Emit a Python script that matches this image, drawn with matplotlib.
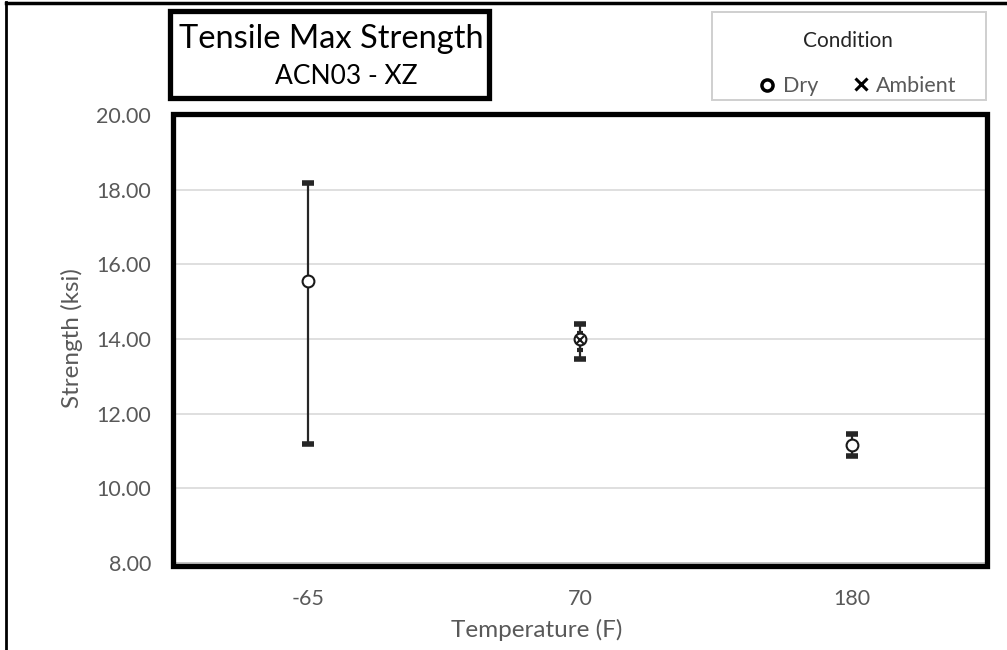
import matplotlib
matplotlib.use("Agg")
import matplotlib.pyplot as plt
from matplotlib.patches import Rectangle
import numpy as np

plt.rcParams['font.family'] = ['Lato', 'DejaVu Sans']

categories = ["-65", "70", "180"]
dry_mean = [15.55, 14.00, 11.16]
dry_err_low = [4.36, 0.54, 0.29]
dry_err_high = [2.63, 0.40, 0.29]
amb_cats = ["70"]
amb_mean = [13.98]
amb_err_low = [0.27]
amb_err_high = [0.18]
yticks = [8, 10, 12, 14, 16, 18, 20]

W, H = 1007, 650
fig = plt.figure(figsize=(W / 100, H / 100), dpi=100)

def fx(px):
    return px / W

def fy(py):
    return 1 - py / H

ax = fig.add_axes([fx(172), fy(563), fx(988) - fx(172), fy(115) - fy(563)])
xpos = np.arange(len(categories))
amb_x = [categories.index(c) for c in amb_cats]

ax.errorbar(xpos, dry_mean, yerr=[dry_err_low, dry_err_high], fmt='none', ecolor='#262626',
            elinewidth=1.6, capsize=4.5, capthick=4, zorder=3)
ax.errorbar(amb_x, amb_mean, yerr=[amb_err_low, amb_err_high], fmt='none', ecolor='#262626',
            elinewidth=1.6, capsize=2.5, capthick=3, zorder=3)
ax.plot(xpos, dry_mean, linestyle='none', marker='o', markersize=8.5,
        markerfacecolor='white', markeredgecolor='#1a1a1a', markeredgewidth=1.5, zorder=4)
ax.plot(amb_x, amb_mean, linestyle='none', marker='x', markersize=5.5,
        markeredgecolor='#1a1a1a', markeredgewidth=1.5, zorder=5)

ax.set_xlim(-0.5, len(categories) - 0.5)
ax.set_ylim(8, 20)
ax.set_xticks(xpos)
ax.set_xticklabels(categories)
ax.set_yticks(yticks)
ax.set_yticklabels([f"{v:.2f}" for v in yticks])
ax.tick_params(axis='both', length=0, labelsize=15.5, colors='#595959')
ax.tick_params(axis='y', pad=15)
ax.tick_params(axis='x', pad=19)
ax.grid(axis='y', color='#d9d9d9', linewidth=1.2, zorder=0)
ax.set_axisbelow(True)
for s in ['top', 'right', 'left']:
    ax.spines[s].set_visible(False)
ax.spines['bottom'].set_color('#bfbfbf')
ax.spines['bottom'].set_linewidth(1.2)

fig.text(fx(537), fy(630), "Temperature (F)", ha='center', va='center',
         fontsize=17.5, color='#595959')
fig.text(fx(72), fy(338), "Strength (ksi)", ha='center', va='center', rotation=90,
         fontsize=17.5, color='#595959')

# thick plot-area border
fig.patches.append(Rectangle((fx(172.5), fy(565.5)), fx(986.5) - fx(172.5), fy(114.5) - fy(565.5),
                             transform=fig.transFigure, fill=False, edgecolor='black',
                             linewidth=3.8, zorder=10))
# figure outer border (left and top)
fig.add_artist(plt.Line2D([fx(6), fx(6)], [fy(2), 0], transform=fig.transFigure,
                          color='black', linewidth=2))
fig.add_artist(plt.Line2D([fx(6), 1], [fy(2.5), fy(2.5)], transform=fig.transFigure,
                          color='black', linewidth=2.5))

# title box
fig.patches.append(Rectangle((fx(170), fy(98)), fx(489) - fx(170), fy(10.5) - fy(98),
                             transform=fig.transFigure, fill=True, facecolor='white',
                             edgecolor='black', linewidth=3.8, zorder=10))
fig.text(fx(331), fy(39), "Tensile Max Strength", ha='center', va='center',
         fontsize=23.5, color='black', zorder=11)
fig.text(fx(346), fy(76), "ACN03 - XZ", ha='center', va='center',
         fontsize=19, color='black', zorder=11)

# legend box
fig.patches.append(Rectangle((fx(712), fy(100)), fx(986) - fx(712), fy(12) - fy(100),
                             transform=fig.transFigure, fill=True, facecolor='white',
                             edgecolor='#cfcfcf', linewidth=1.4, zorder=10))
fig.text(fx(848), fy(41), "Condition", ha='center', va='center', fontsize=15,
         color='#262626', zorder=11)
fig.add_artist(plt.Line2D([fx(767)], [fy(85)], transform=fig.transFigure, marker='o',
                          markersize=8, markerfacecolor='white', markeredgecolor='black',
                          markeredgewidth=2.5, linestyle='none', zorder=11))
fig.text(fx(783), fy(86), "Dry", ha='left', va='center', fontsize=15.5,
         color='#595959', zorder=11)
fig.add_artist(plt.Line2D([fx(861)], [fy(84)], transform=fig.transFigure, marker='x',
                          markersize=8, markeredgecolor='black',
                          markeredgewidth=2.2, linestyle='none', zorder=11))
fig.text(fx(876), fy(86), "Ambient", ha='left', va='center', fontsize=15.5,
         color='#595959', zorder=11)

fig.savefig("out.png", dpi=100)
